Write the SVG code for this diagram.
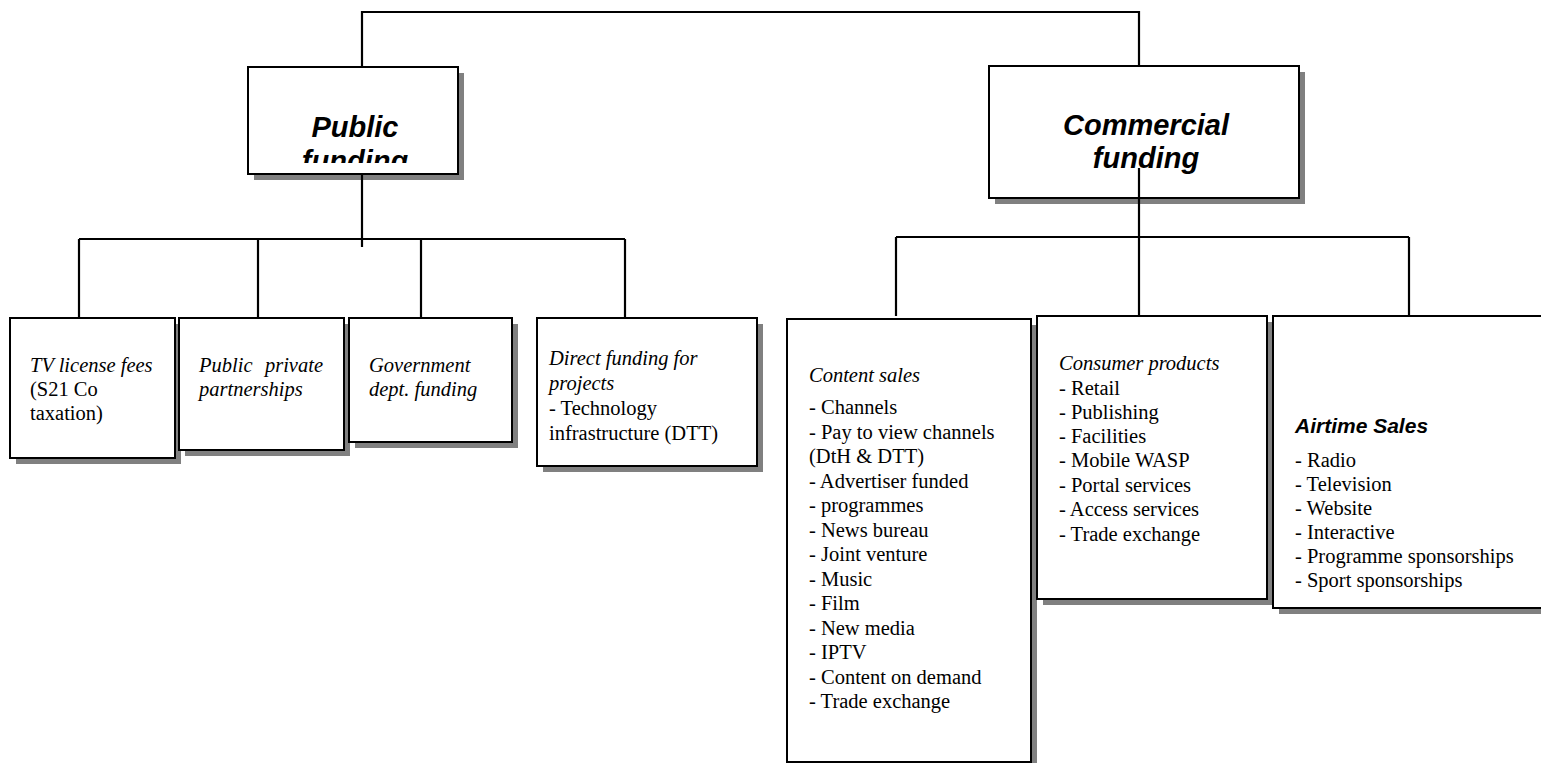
<svg xmlns="http://www.w3.org/2000/svg" width="1541" height="763" viewBox="0 0 1541 763">
<style>
.box{fill:#fff;stroke:#000;stroke-width:2}
.sh{fill:#808080}
.ln{fill:none;stroke:#000;stroke-width:2.2}
.t{font-family:"Liberation Serif","Times New Roman",serif;font-size:20.5px;fill:#000}
.ti{font-family:"Liberation Serif","Times New Roman",serif;font-size:20.5px;font-style:italic;fill:#000}
.h{font-family:"Liberation Sans",Arial,sans-serif;font-size:29px;font-weight:bold;font-style:italic;fill:#000}
.hs{font-family:"Liberation Sans",Arial,sans-serif;font-size:21px;font-weight:bold;font-style:italic;fill:#000}
</style>
<defs>
<clipPath id="pubclip"><rect x="250" y="68" width="206" height="95"/></clipPath>
</defs>
<rect width="1541" height="763" fill="#fff"/>

<g id="public-funding">
<rect class="sh" x="254" y="73" width="210" height="107"/>
<rect class="box" x="248" y="67" width="210" height="107"/>
<g clip-path="url(#pubclip)">
<text class="h" x="355" y="137" text-anchor="middle">Public</text>
<text class="h" x="355" y="171" text-anchor="middle">funding</text>
</g>
</g>

<g id="commercial-funding">
<rect class="sh" x="995" y="72" width="310" height="132"/>
<rect class="box" x="989" y="66" width="310" height="132"/>
<text class="h" x="1146" y="135" text-anchor="middle">Commercial</text>
<text class="h" x="1146" y="168" text-anchor="middle">funding</text>
</g>

<g id="tv-license">
<rect class="sh" x="16" y="324" width="165" height="140"/>
<rect class="box" x="10" y="318" width="165" height="140"/>
<text class="ti" x="30" y="372">TV license fees</text>
<text class="t" x="30" y="396">(S21 Co</text>
<text class="t" x="30" y="420">taxation)</text>
</g>

<g id="ppp">
<rect class="sh" x="185" y="324" width="165" height="132"/>
<rect class="box" x="179" y="318" width="165" height="132"/>
<text class="ti" x="199" y="372">Public</text>
<text class="ti" x="323" y="372" text-anchor="end">private</text>
<text class="ti" x="199" y="396">partnerships</text>
</g>

<g id="government">
<rect class="sh" x="355" y="324" width="163" height="124"/>
<rect class="box" x="349" y="318" width="163" height="124"/>
<text class="ti" x="369" y="372">Government</text>
<text class="ti" x="369" y="396">dept. funding</text>
</g>

<g id="direct-funding">
<rect class="sh" x="543" y="324" width="220" height="148"/>
<rect class="box" x="537" y="318" width="220" height="148"/>
<text class="ti" x="549" y="365">Direct funding for</text>
<text class="ti" x="549" y="390">projects</text>
<text class="t" x="549" y="415">- Technology</text>
<text class="t" x="549" y="440">infrastructure (DTT)</text>
</g>

<g id="content-sales">
<rect class="sh" x="793" y="325" width="244" height="450"/>
<rect class="box" x="787" y="319" width="244" height="443"/>
<text class="ti" x="809" y="382">Content sales</text>
<text class="t" x="809" y="414">- Channels</text>
<text class="t" x="809" y="438.5">- Pay to view channels</text>
<text class="t" x="809" y="463">(DtH &amp; DTT)</text>
<text class="t" x="809" y="487.5">- Advertiser funded</text>
<text class="t" x="809" y="512">- programmes</text>
<text class="t" x="809" y="536.5">- News bureau</text>
<text class="t" x="809" y="561">- Joint venture</text>
<text class="t" x="809" y="585.5">- Music</text>
<text class="t" x="809" y="610">- Film</text>
<text class="t" x="809" y="634.5">- New media</text>
<text class="t" x="809" y="659">- IPTV</text>
<text class="t" x="809" y="683.5">- Content on demand</text>
<text class="t" x="809" y="708">- Trade exchange</text>
</g>

<g id="consumer-products">
<rect class="sh" x="1043" y="322" width="230" height="283"/>
<rect class="box" x="1037" y="316" width="230" height="283"/>
<text class="ti" x="1059" y="370">Consumer products</text>
<text class="t" x="1059" y="394.5">- Retail</text>
<text class="t" x="1059" y="418.5">- Publishing</text>
<text class="t" x="1059" y="443">- Facilities</text>
<text class="t" x="1059" y="467">- Mobile WASP</text>
<text class="t" x="1059" y="491.5">- Portal services</text>
<text class="t" x="1059" y="516">- Access services</text>
<text class="t" x="1059" y="540.5">- Trade exchange</text>
</g>

<g id="airtime-sales">
<rect class="sh" x="1279" y="322" width="280" height="292"/>
<rect class="box" x="1273" y="316" width="280" height="292"/>
<text class="hs" x="1295" y="433">Airtime Sales</text>
<text class="t" x="1295" y="467">- Radio</text>
<text class="t" x="1295" y="491">- Television</text>
<text class="t" x="1295" y="515">- Website</text>
<text class="t" x="1295" y="539">- Interactive</text>
<text class="t" x="1295" y="563">- Programme sponsorships</text>
<text class="t" x="1295" y="587">- Sport sponsorships</text>
</g>

<g id="connectors">
<polyline class="ln" points="362,67 362,12 1139,12 1139,66"/>
<line class="ln" x1="362" y1="174" x2="362" y2="247"/>
<line class="ln" x1="79" y1="239" x2="625" y2="239"/>
<line class="ln" x1="79" y1="239" x2="79" y2="318"/>
<line class="ln" x1="258" y1="239" x2="258" y2="318"/>
<line class="ln" x1="421" y1="239" x2="421" y2="318"/>
<line class="ln" x1="625" y1="239" x2="625" y2="318"/>
<line class="ln" x1="1139" y1="168" x2="1139" y2="316"/>
<line class="ln" x1="896" y1="237" x2="1409" y2="237"/>
<line class="ln" x1="896" y1="237" x2="896" y2="316"/>
<line class="ln" x1="1409" y1="237" x2="1409" y2="316"/>
</g>
</svg>
